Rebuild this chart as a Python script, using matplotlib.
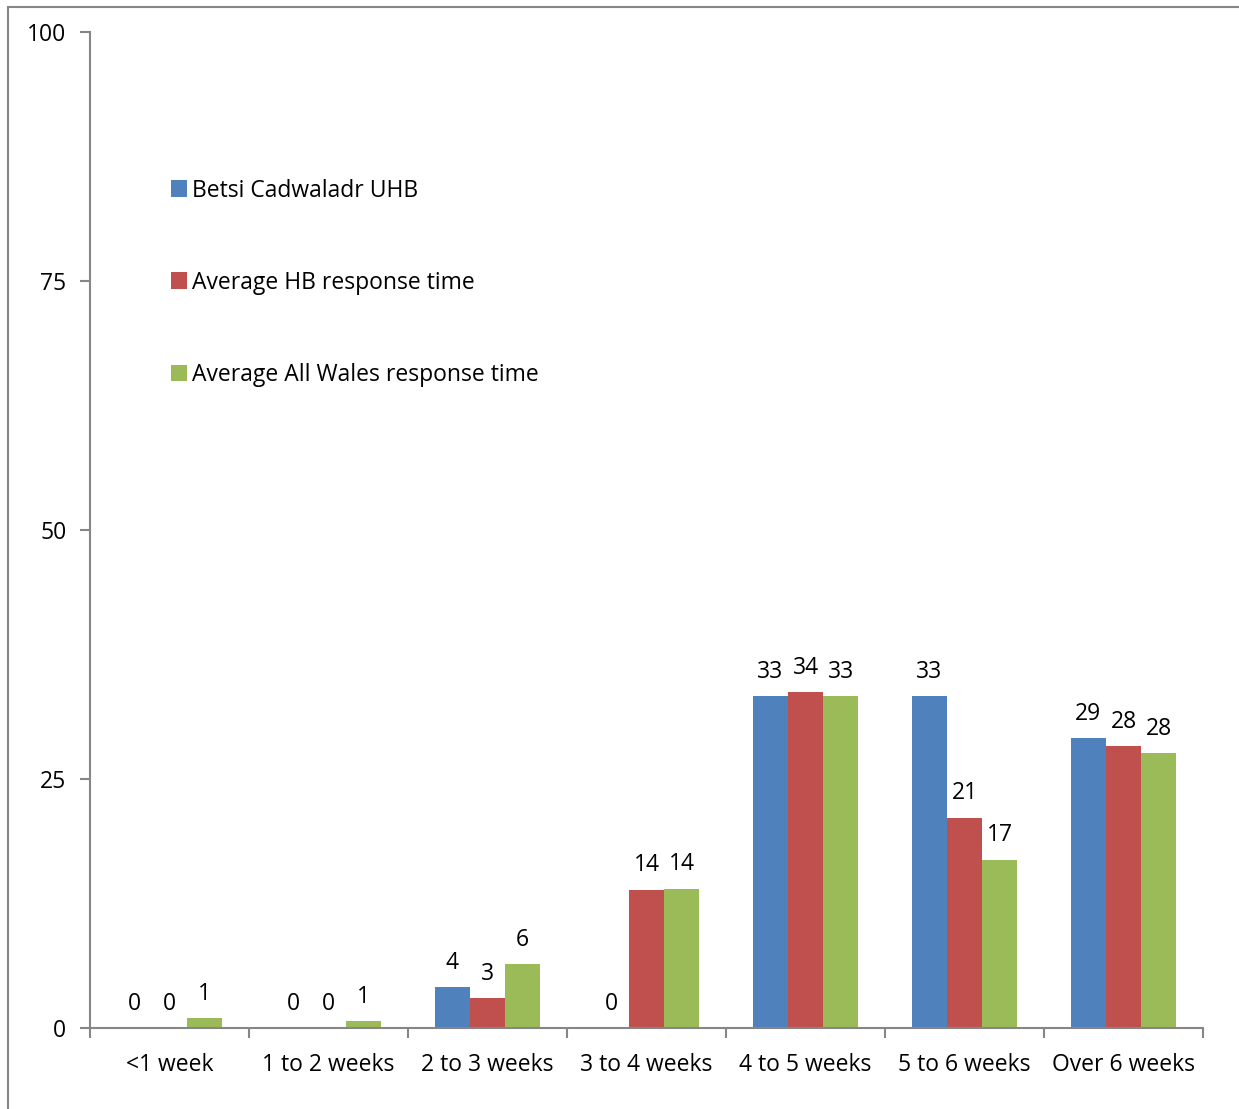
import numpy as np
import matplotlib.pyplot as plt
from matplotlib.patches import Rectangle

plt.rcParams['font.family'] = ['Open Sans', 'DejaVu Sans']

categories = ['<1 week', '1 to 2 weeks', '2 to 3 weeks', '3 to 4 weeks',
              '4 to 5 weeks', '5 to 6 weeks', 'Over 6 weeks']
betsi = [0, 0, 4.1, 0, 33.3, 33.3, 29.1]
hb_avg = [0, 0, 3.0, 13.9, 33.7, 21.1, 28.3]
wales_avg = [1.0, 0.7, 6.4, 14.0, 33.3, 16.9, 27.6]

series = [
    ('Betsi Cadwaladr UHB', betsi, '#4f81bd'),
    ('Average HB response time', hb_avg, '#c0504d'),
    ('Average All Wales response time', wales_avg, '#9bbb59'),
]

axis_grey = '#868686'
fs = 16.5

fig = plt.figure(figsize=(12.39, 11.09), dpi=100)
ax = fig.add_axes([90 / 1239, 1 - 1028 / 1109, 1113 / 1239, 996 / 1109])

# chart area border (left and top edges show, the rest runs off the image)
fig.patches.append(Rectangle((8 / 1239, -0.1), 1.2, 1 - 7 / 1109 + 0.1,
                             transform=fig.transFigure, fill=False,
                             edgecolor=axis_grey, linewidth=1.5))

ind = np.arange(len(categories))
width = 0.222

handles = []
for i, (name, vals, col) in enumerate(series):
    x = ind + (i - 1) * width
    rects = ax.bar(x, vals, width, color=col, label=name, zorder=2)
    handles.append(rects)
    for r, v in zip(rects, vals):
        ax.annotate('%d' % round(v), (r.get_x() + r.get_width() / 2, v),
                    xytext=(0, 9), textcoords='offset points',
                    ha='center', va='bottom', fontsize=fs)

ax.set_xlim(-0.5, len(categories) - 0.5)
ax.set_ylim(0, 100)
ax.set_yticks([0, 25, 50, 75, 100])
ax.set_xticks(ind)
ax.set_xticklabels(categories, fontsize=fs)
ax.set_xticks(np.arange(len(categories) + 1) - 0.5, minor=True)
ax.tick_params(axis='x', which='major', length=0, pad=18)
ax.tick_params(axis='x', which='minor', length=7, color=axis_grey, width=1.5)
ax.tick_params(axis='y', length=7, color=axis_grey, width=1.5, labelsize=fs, pad=10)

for s in ['top', 'right']:
    ax.spines[s].set_visible(False)
for s in ['left', 'bottom']:
    ax.spines[s].set_color(axis_grey)
    ax.spines[s].set_linewidth(1.5)

ax.legend(handles=handles, loc='upper left', bbox_to_anchor=(0.0645, 0.862),
          frameon=False, fontsize=fs, handlelength=0.72, handleheight=0.72,
          handletextpad=0.2, labelspacing=2.97, borderaxespad=0)

fig.savefig('out.png', dpi=100)
